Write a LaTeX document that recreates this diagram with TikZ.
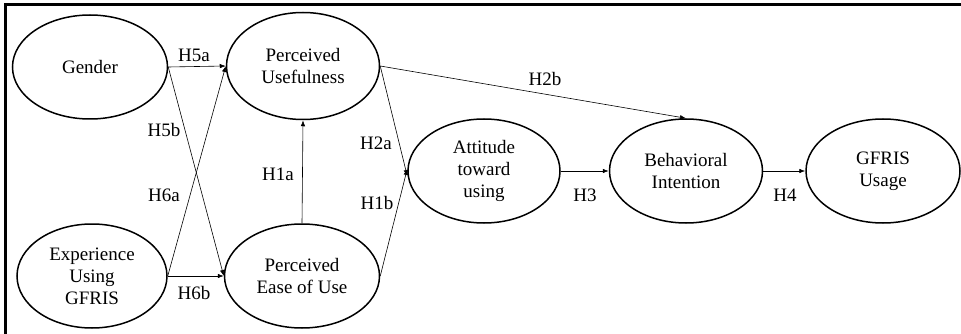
\documentclass[tikz,border=0pt]{standalone}
\usepackage{fontspec}
\setmainfont{Liberation Serif}
\usetikzlibrary{shapes.geometric,arrows.meta}
\begin{document}
\begin{tikzpicture}[x=1pt,y=-1pt,
  construct/.style={ellipse,draw,line width=1.5pt,minimum width=153pt,minimum height=104pt,inner sep=0pt,align=center,font=\fontsize{19}{22}\selectfont},
  link/.style={-{Latex[length=6pt,width=4.5pt]},line width=0.6pt},
  hyp/.style={font=\fontsize{19}{22}\selectfont,inner sep=1pt}]
\useasboundingbox (0,0) rectangle (961,334);
\draw[line width=3pt] (5,345) -- (5,4.5) -- (970,4.5);

\node[construct,minimum width=155pt] (gen) at (90,67) {Gender};
\node[construct,minimum height=107pt] (pu) at (303,66) {Perceived\\Usefulness};
\node[construct,minimum width=150pt] (exp) at (92,276) {Experience\\Using\\GFRIS};
\node[construct,minimum width=155pt] (peou) at (302,276) {Perceived\\Ease of Use};
\node[construct,minimum width=152pt] (att) at (484,171) {Attitude\\toward\\using};
\node[construct] (bi) at (686,171) {Behavioral\\Intention};
\node[construct,minimum width=154pt] (use) at (883,171) {GFRIS\\Usage};

\draw[link] (gen.east) -- (pu.west);
\node[hyp] (h5a) at (194,55) {H5a};
\draw[link] (gen.east) -- (peou.west);
\node[hyp] (h5b) at (164,130) {H5b};
\draw[link] (exp.east) -- (pu.west);
\node[hyp] (h6a) at (164,195) {H6a};
\draw[link] (exp.east) -- (peou.west);
\node[hyp] (h6b) at (194,293) {H6b};
\draw[link] (peou.north) -- (pu.south);
\node[hyp] (h1a) at (278,174) {H1a};
\draw[link] (pu.east) -- ([yshift=-5pt]att.west);
\node[hyp] (h2a) at (376,143) {H2a};
\draw[link] (peou.east) -- ([yshift=2pt]att.west);
\node[hyp] (h1b) at (377,203) {H1b};
\draw[link] (pu.east) -- (bi.north);
\node[hyp] (h2b) at (545,79) {H2b};
\draw[link] (att.east) -- (bi.west);
\node[hyp] (h3) at (585,195) {H3};
\draw[link] (bi.east) -- (use.west);
\node[hyp] (h4) at (785,195) {H4};
\end{tikzpicture}
\end{document}
